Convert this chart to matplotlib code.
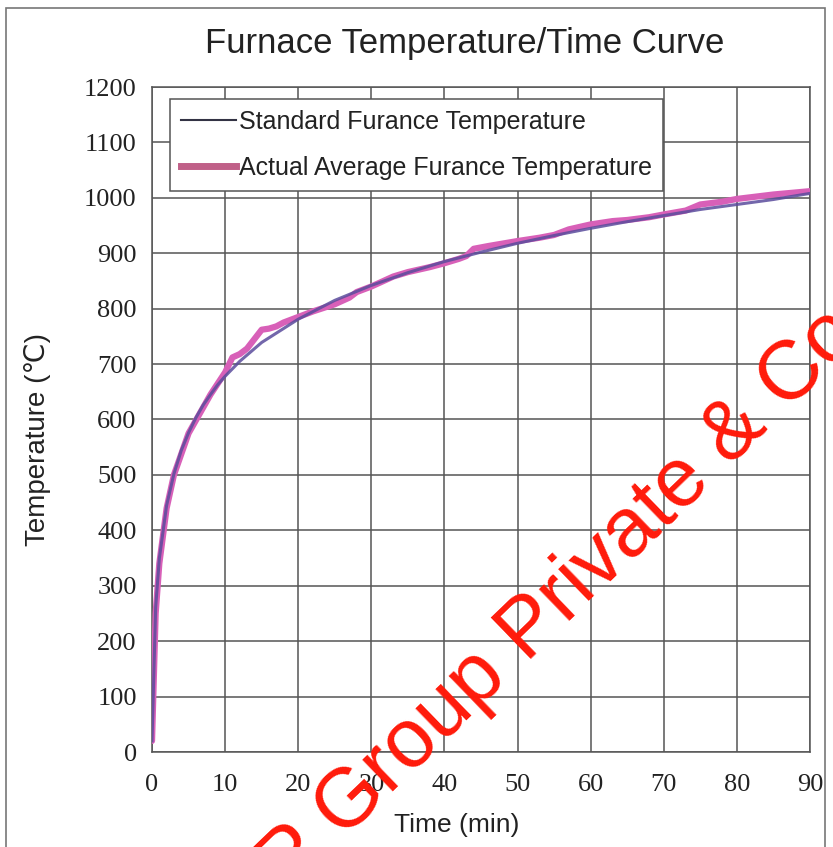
import matplotlib
matplotlib.use("Agg")
import matplotlib.pyplot as plt
from matplotlib.patches import Rectangle
from matplotlib.lines import Line2D

# ---- data ----
std_time = [0, 0.5, 1, 2, 3, 4, 5, 6, 7, 8, 9, 10, 12, 15, 20, 25, 30, 35, 40,
            45, 50, 55, 60, 65, 70, 75, 80, 85, 90]
std_temp = [20, 261, 349, 445, 502, 544, 576, 603, 626, 645, 663, 678, 705, 739,
            781, 815, 842, 865, 885, 902, 918, 932, 945, 957, 968, 979, 988, 997, 1008]

act_time = [0, 0.5, 1, 2, 3, 5, 8, 10, 11, 12, 13, 14, 15, 16, 17, 18, 20, 22, 25,
            27, 28, 30, 33, 35, 38, 40, 42, 43, 44, 46, 50, 53, 55, 57, 60, 63, 65,
            68, 70, 73, 75, 78, 80, 85, 90]
act_temp = [20, 250, 340, 440, 500, 575, 645, 685, 712, 718, 728, 745, 762, 764,
            768, 775, 785, 795, 808, 820, 830, 840, 858, 866, 875, 882, 890, 895,
            908, 913, 922, 928, 933, 943, 952, 958, 960, 965, 970, 977, 988, 993,
            998, 1006, 1012]

x_ticks = list(range(0, 91, 10))
y_ticks = list(range(0, 1201, 100))

title = "Furnace Temperature/Time Curve"
xlabel = "Time (min)"
ylabel = "Temperature (\u2103)"
labels = ["Standard Furance Temperature", "Actual Average Furance Temperature"]

sans = ["Liberation Sans", "DejaVu Sans"]
serif = ["Liberation Serif", "DejaVu Serif"]

fig = plt.figure(figsize=(8.33, 8.47), dpi=100)
ax = fig.add_axes([152/833, 1-752/847, 658/833, 665/847])

ax.plot(act_time, act_temp, color="#d860b8", lw=4.5, solid_capstyle="round",
        label=labels[1], zorder=3)
ax.plot(std_time, std_temp, color="#5a4c9c", lw=2.2, alpha=0.85,
        label=labels[0], zorder=4)

ax.set_xlim(0, 90)
ax.set_ylim(0, 1200)
ax.set_xticks(x_ticks)
ax.set_yticks(y_ticks)
ax.grid(True, color="#555555", lw=1.1)
ax.set_axisbelow(True)
for s in ax.spines.values():
    s.set_color("#555555")
    s.set_linewidth(1.1)
ax.tick_params(length=0, labelsize=19, labelcolor="#222222")
ax.tick_params(axis="x", pad=16)
ax.tick_params(axis="y", pad=11)
for lab in ax.get_xticklabels() + ax.get_yticklabels():
    lab.set_family(serif)

fig.text(465/833, 1-44/847, title, ha="center", va="center", fontsize=25,
         family=sans, color="#222222")
fig.text(457/833, 1-825/847, xlabel, ha="center", va="center", fontsize=19,
         family=sans, color="#222222")
fig.text(38/833, 1-440/847, ylabel, ha="center", va="center", fontsize=20,
         family=sans, color="#222222", rotation=90)

# legend
h_std = Line2D([], [], color="#333344", lw=1.5)
h_act = Line2D([], [], color="#c06088", lw=5)
leg = ax.legend([h_std, h_act], labels, loc="upper left",
                bbox_to_anchor=(18/658, 1-12/665), prop={"family": sans, "size": 18},
                frameon=True, fancybox=False, edgecolor="#555555", framealpha=1,
                handlelength=2.2, handletextpad=0.1, borderpad=0.45, labelspacing=0.85,
                borderaxespad=0)
leg.get_frame().set_linewidth(1.1)
for t in leg.get_texts():
    t.set_color("#222222")

# scan border
fig.patches.append(Rectangle((6/833, -0.01), 819/833, 1-8/847 + 0.01,
                             transform=fig.transFigure, fill=False,
                             edgecolor="#777777", lw=1.2))

# watermark
fig.text(560/833, 1-600/847, "P Group Private & Co", ha="center", va="center",
         rotation=44, rotation_mode="anchor", fontsize=60, color="#ff1a0a",
         family=["Liberation Sans", "DejaVu Sans"], zorder=10)

fig.savefig("out.png", dpi=100)
